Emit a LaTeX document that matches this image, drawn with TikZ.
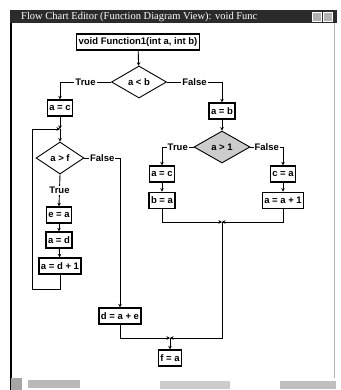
\documentclass[tikz,border=0pt]{standalone}
\usepackage{fontspec}
\setmainfont{Liberation Sans}
\newfontfamily\titulofont{Liberation Serif}
\usetikzlibrary{shapes.geometric, arrows.meta, positioning}
\definecolor{cgris}{HTML}{3a3a3a}
\definecolor{cbarra}{HTML}{2b2b2b}
\tikzset{
  caja/.style={rectangle, draw, line width=1.3pt, inner sep=2pt, minimum height=16pt,
               font=\bfseries\fontsize{9.5}{10}\selectfont},
  rombo/.style={diamond, draw, line width=0.9pt, inner sep=0pt, minimum width=#1,
                minimum height=32pt, font=\bfseries\fontsize{9.5}{10}\selectfont},
  flecha/.style={-{Stealth[length=3.5pt, width=3.5pt]}, line width=0.9pt},
  rotulo/.style={fill=white, inner sep=1pt, font=\bfseries\fontsize{9.5}{10}\selectfont},
}

\begin{document}
\begin{tikzpicture}[x=1pt, y=-1pt, node distance=9pt]
        \useasboundingbox (0,0) rectangle (340,390);
        % window frame
        \fill[cbarra] (10,10) rectangle (337,23);
        \node[anchor=west, text=white, font=\titulofont\fontsize{10.5}{11}\selectfont, inner sep=0pt] (titulo) at (21,16.5)
            {Flow Chart Editor (Function Diagram View): void Func};
        \foreach \bx in {312,323}
            \draw[white, fill=gray!60] (\bx,12) rectangle ++(9,9);
        \draw[line width=1.6pt] (11,23) -- (11,390);
        \draw[gray!60, line width=0.6pt] (334,23) -- (334,378);
        \fill[gray!70] (11,378) rectangle (22,390);
        \fill[gray!55] (28,380) rectangle (80,388);
        \fill[gray!40] (160,381) rectangle (230,389);
        \fill[gray!50] (280,381) rectangle (336,389);

        % diagram
        \node[caja] (fn) at (138,42) {void Function1(int a, int b)};
        \node[rombo=55pt] (ab) at (139,82) {a < b};

        \node[caja] (s1) at (60,108) {a = c};
        \coordinate (m1) at (60,129);
        \node[rombo=48pt] (af) at (60,158) {a > f};
        \node[caja] (s2) at (59,215) {e = a};
        \node[caja] (s3) at (59,240) {a = d};
        \node[caja] (s4) at (60,266) {a = d + 1};
        \coordinate (lazo) at (32,289);
        \node[caja] (s5) at (120,316) {d = a + e};

        \node[caja] (s6) at (222,111) {a = b};
        \node[rombo=56pt, fill=gray!40] (a1) at (222,147) {a > 1};
        \node[caja] (s7) at (162,174) {a = c};
        \node[caja, below=of s7] (s8) {b = a};
        \node[caja] (s9) at (283,174) {c = a};
        \node[caja, below=of s9] (s10) {a = a + 1};
        \coordinate (m2) at (222,222);
        \coordinate (m3) at (170,338);
        \node[caja] (s11) at (170,358) {f = a};

        \draw[flecha] (fn) -- (ab);
        \draw[flecha] (ab.west) -- node[rotulo] {True} (s1.north |- ab.west) -- (s1.north);
        \draw[flecha] (ab.east) -- node[rotulo] {False} (s6.north |- ab.east) -- (s6.north);
        \draw[flecha] (s1) -- (m1);
        \draw[flecha] (s4.south) |- (lazo) |- (m1);
        \draw[flecha] (m1) -- (af);
        \draw[flecha] (af.south) -- node[rotulo] {True} (s2.north);
        \draw[flecha] (s2) -- (s3);
        \draw[flecha] (s3) -- (s4);
        \draw[flecha] (af.east) -- node[rotulo] {False} (s5.north |- af.east) -- (s5.north);

        \draw[flecha] (s6) -- (a1);
        \draw[flecha] (a1.west) -- node[rotulo] {True} (s7.north |- a1.west) -- (s7.north);
        \draw[flecha] (a1.east) -- node[rotulo] {False} (s9.north |- a1.east) -- (s9.north);
        \draw[flecha] (s7) -- (s8);
        \draw[flecha] (s9) -- (s10);
        \draw[flecha] (s8.south) |- (m2);
        \draw[flecha] (s10.south) |- (m2);
        \draw[flecha] (m2) |- (m3);
        \draw[flecha] (s5.south) |- (m3);
        \draw[flecha] (m3) -- (s11);
\end{tikzpicture}
\end{document}
